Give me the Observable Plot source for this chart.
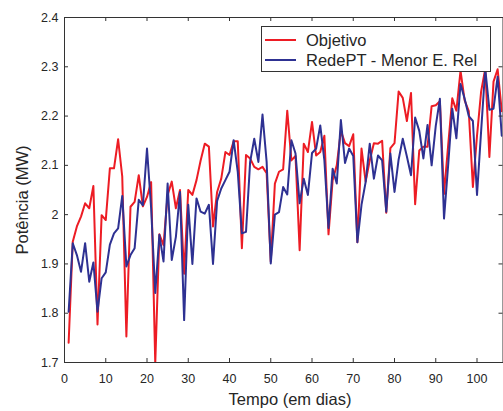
<!DOCTYPE html>
<html><head><meta charset="utf-8">
<script src="https://cdn.jsdelivr.net/npm/d3@7"></script>
<script src="https://cdn.jsdelivr.net/npm/@observablehq/plot@0.6"></script>
<style>body{margin:0;background:#fff;}</style>
</head><body><div id="chart"></div>
<script>
const dias = d3.range(1, 107);
const objetivo = [
 1.740, 1.945, 1.976, 1.996, 2.023, 2.013, 2.058, 1.777, 1.999, 1.989,
 2.094, 2.094, 2.153, 2.077, 1.753, 2.016, 2.026, 2.080, 2.017, 2.036,
 2.066, 1.698, 1.960, 1.938, 2.040, 2.067, 2.013, 2.050, 1.880, 2.050,
 2.040, 2.070, 2.110, 2.144, 2.138, 1.976, 2.046, 2.073, 2.127, 2.121,
 2.149, 2.149, 1.932, 2.121, 2.114, 2.097, 2.092, 2.097, 2.084, 1.905,
 2.063, 2.087, 2.092, 2.211, 2.110, 2.119, 1.928, 2.144, 2.127, 2.188,
 2.120, 2.127, 2.160, 1.960, 2.070, 2.100, 2.170, 2.145, 2.139, 2.163,
 1.944, 2.134, 2.067, 2.110, 2.145, 2.144, 2.150, 2.004, 2.135, 2.145,
 2.250, 2.237, 2.190, 2.247, 2.021, 2.130, 2.138, 2.138, 2.220, 2.222,
 2.230, 2.042, 2.140, 2.236, 2.211, 2.292, 2.232, 2.210, 2.056, 2.160,
 2.250, 2.296, 2.117, 2.270, 2.295, 2.210
];
const redePT = [
 1.803, 1.942, 1.918, 1.884, 1.942, 1.864, 1.903, 1.803, 1.871, 1.883,
 1.939, 1.962, 1.972, 2.038, 1.895, 1.918, 1.932, 2.030, 2.019, 2.134,
 2.013, 1.841, 1.959, 1.905, 2.063, 1.908, 1.955, 2.046, 1.786, 2.020,
 1.900, 2.033, 2.006, 2.002, 2.020, 1.900, 2.028, 2.053, 2.070, 2.087,
 2.151, 2.087, 1.962, 1.965, 2.107, 2.154, 2.107, 2.203, 2.107, 1.901,
 2.000, 2.005, 2.056, 2.041, 2.151, 2.124, 2.023, 2.073, 2.040, 2.125,
 2.134, 2.181, 2.110, 1.973, 2.093, 2.063, 2.192, 2.105, 2.134, 2.119,
 1.944, 2.020, 2.066, 2.144, 2.073, 2.120, 2.110, 2.006, 2.124, 2.046,
 2.112, 2.154, 2.118, 2.080, 2.197, 2.170, 2.114, 2.182, 2.100, 2.180,
 2.235, 1.992, 2.100, 2.215, 2.155, 2.265, 2.235, 2.200, 2.190, 2.040,
 2.170, 2.296, 2.213, 2.215, 2.280, 2.160
];
const xTicks = [0, 10, 20, 30, 40, 50, 60, 70, 80, 90, 100];
const yTicks = [1.7, 1.8, 1.9, 2, 2.1, 2.2, 2.3, 2.4];
const seriesNames = ["Objetivo", "RedePT - Menor E. Rel"];
const seriesColors = ["#ed1c24", "#2e3192"];
const xLabel = "Tempo (em dias)";
const yLabel = "Potência (MW)";

const data = [];
dias.forEach((d, i) => data.push({dia: d, valor: objetivo[i], serie: seriesNames[0]}));
dias.forEach((d, i) => data.push({dia: d, valor: redePT[i], serie: seriesNames[1]}));

const W = 503, H = 411, mL = 64, mR = 0.5, mT = 17, mB = 49;
const pw = W - mL - mR, ph = H - mT - mB;
const font = "'Liberation Sans', Arial, Helvetica, sans-serif";
const axisColor = "#333";
const textColor = "#262626";

const plot = Plot.plot({
  width: W, height: H,
  marginLeft: mL, marginRight: mR, marginTop: mT, marginBottom: mB,
  style: {fontFamily: font, background: "#fff", overflow: "visible"},
  x: {domain: [0, 106.3], ticks: xTicks, label: null},
  y: {domain: [1.7, 2.4], ticks: yTicks, label: null},
  color: {domain: seriesNames, range: seriesColors},
  marks: [
    Plot.line(data, {x: "dia", y: "valor", z: "serie", stroke: "serie", strokeWidth: 2, clip: true}),
    Plot.tickX(xTicks, {x: d => d, insetTop: ph - 4, stroke: axisColor}),
    Plot.tickX(xTicks, {x: d => d, insetBottom: ph - 4, stroke: axisColor}),
    Plot.tickY(yTicks, {y: d => d, insetRight: pw - 4, stroke: axisColor}),
    Plot.tickY(yTicks, {y: d => d, insetLeft: pw - 4, stroke: axisColor}),
    Plot.frame({stroke: axisColor}),
    Plot.axisX(xTicks, {tickSize: 0, tickPadding: 12, fontSize: 12.5, fill: textColor, label: null}),
    Plot.axisY(yTicks, {tickSize: 0, tickPadding: 6, fontSize: 12.5, fill: textColor, label: null,
      tickFormat: d => String(+d.toFixed(1))})
  ]
});
document.getElementById("chart").appendChild(plot);

const svg = d3.select(plot);
// axis labels
svg.append("text").attr("x", 290).attr("y", 404.5).attr("text-anchor", "middle")
  .attr("font-family", font).attr("font-size", 16.5).attr("fill", textColor).text(xLabel);
svg.append("text").attr("transform", "translate(28,200) rotate(-90)").attr("text-anchor", "middle")
  .attr("font-family", font).attr("font-size", 16.5).attr("fill", textColor).text(yLabel);
// legend
const lg = svg.append("g");
lg.append("rect").attr("x", 261.5).attr("y", 26.5).attr("width", 229).attr("height", 45)
  .attr("fill", "#fff").attr("stroke", axisColor);
seriesNames.forEach((name, i) => {
  const yy = 40 + i * 20;
  lg.append("line").attr("x1", 265).attr("x2", 296).attr("y1", yy).attr("y2", yy)
    .attr("stroke", seriesColors[i]).attr("stroke-width", 2);
  lg.append("text").attr("x", 306).attr("y", yy + 5.5).attr("text-anchor", "start")
    .attr("font-family", font).attr("font-size", 16.5).attr("fill", textColor).text(name);
});
</script></body></html>
